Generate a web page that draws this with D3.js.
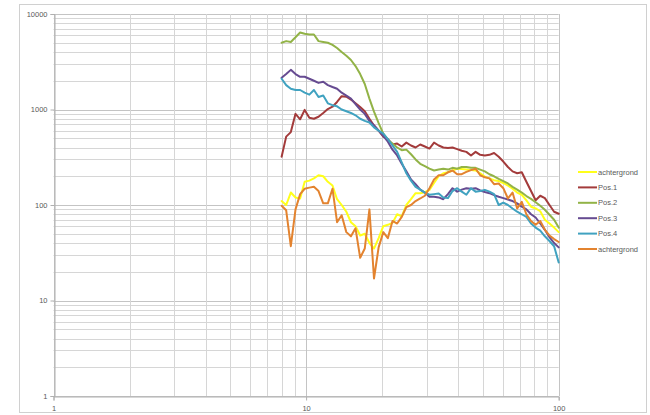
<!DOCTYPE html>
<html>
<head>
<meta charset="utf-8">
<script src="https://cdn.jsdelivr.net/npm/d3@7/dist/d3.min.js"></script>
<style>
  html, body { margin: 0; padding: 0; background: #fff; }
  svg { display: block; }
  text { font-family: "Liberation Sans", Arial, sans-serif; fill: #595959; }
</style>
</head>
<body>
<svg id="chart" width="650" height="415"></svg>
<script>
// Frequencies (Hz) of the measurement bands
const freqs = [8.00, 8.34, 8.70, 9.08, 9.47, 9.87, 10.30, 10.74, 11.20, 11.69,
  12.19, 12.72, 13.26, 13.83, 14.43, 15.05, 15.69, 16.37, 17.07, 17.81,
  18.57, 19.37, 20.21, 21.07, 21.98, 22.93, 23.91, 24.94, 26.02, 27.13,
  28.30, 29.52, 30.78, 32.10, 33.49, 34.93, 36.43, 37.99, 39.63, 41.32,
  43.10, 44.96, 46.88, 48.90, 51.00, 53.19, 55.48, 57.87, 60.36, 62.95,
  65.66, 68.48, 71.42, 74.49, 77.70, 81.04, 84.52, 88.15, 91.94, 95.90, 100.00];

const achtergrond1 = [110, 100, 135, 120, 117, 175, 180, 190, 205, 200,
  175, 160, 115, 100, 85, 66, 60, 48, 50, 40,
  35, 45, 60, 62, 65, 80, 76, 100, 115, 133,
  133, 136, 144, 170, 200, 215, 220, 230, 240, 238,
  235, 232, 230, 215, 198, 190, 182, 178, 170, 160,
  148, 135, 128, 112, 96, 92, 86, 70, 64, 58, 52];

const pos1 = [320, 520, 580, 900, 790, 990, 820, 800, 840, 920,
  1010, 1070, 1200, 1380, 1360, 1270, 1160, 1060, 960, 800,
  680, 600, 520, 490, 430, 440, 410, 450, 420, 400,
  430, 410, 390, 450, 420, 400, 395, 400, 385, 370,
  360, 330, 360, 335, 330, 335, 350, 320, 285, 250,
  225, 215, 220, 175, 140, 112, 125, 118, 100, 85, 81];

const pos2 = [5000, 5200, 5100, 5700, 6400, 6200, 6100, 6100, 5200, 5100,
  5000, 4750, 4400, 4000, 3650, 3300, 2850, 2350, 1850, 1300,
  950, 720, 560, 480, 440, 400, 375, 380, 340, 300,
  270, 255, 240, 230, 235, 240, 235, 245, 240, 250,
  250, 245, 245, 235, 225, 210, 200, 188, 178, 168,
  155, 145, 135, 124, 116, 107, 98, 89, 79, 70, 58];

const pos3 = [2150, 2350, 2600, 2350, 2200, 2200, 2100, 2000, 1900, 1950,
  1800, 1720, 1650, 1500, 1400, 1300, 1140, 1000, 900, 760,
  680, 600, 530, 460, 380, 330, 270, 225, 185, 165,
  145, 135, 122, 122, 120, 115, 130, 150, 138, 145,
  150, 148, 150, 142, 137, 133, 127, 122, 118, 114,
  110, 104, 96, 90, 80, 74, 64, 55, 46, 40, 36];

const pos4 = [2100, 1800, 1650, 1600, 1600, 1500, 1430, 1600, 1350, 1400,
  1160, 1110, 1080, 1000, 960, 920, 870, 800, 760, 730,
  650, 600, 560, 490, 420, 360, 280, 215, 180, 155,
  145, 135, 128, 130, 132, 120, 118, 140, 150, 138,
  128, 150, 138, 140, 144, 138, 130, 100, 106, 100,
  92, 85, 80, 75, 64, 58, 54, 47, 42, 37, 25];

const achtergrond2 = [98, 88, 37, 90, 130, 148, 152, 155, 140, 104,
  104, 148, 66, 78, 52, 47, 57, 28, 35, 90,
  17, 36, 52, 45, 68, 64, 75, 95, 100, 110,
  117, 125, 150, 185, 205, 205, 220, 230, 210, 210,
  222, 232, 240, 205, 195, 190, 165, 168, 150, 117,
  135, 92, 108, 80, 68, 62, 68, 55, 48, 44, 41];

const seriesNames = ["achtergrond", "Pos.1", "Pos.2", "Pos.3", "Pos.4", "achtergrond"];
const seriesValues = [achtergrond1, pos1, pos2, pos3, pos4, achtergrond2];
const seriesColors = ["#FFFF1A", "#A33B3B", "#92B347", "#664B91", "#40A2C0", "#E3832F"];

const xTickLabels = [1, 10, 100];
const yTickLabels = [1, 10, 100, 1000, 10000];

const svg = d3.select("#chart");

// Outer chart frame
svg.append("rect")
  .attr("x", 19.5).attr("y", 4.5)
  .attr("width", 627).attr("height", 408)
  .attr("fill", "#fff").attr("stroke", "#d0d0d0");

const x = d3.scaleLog().domain([1, 100]).range([53.5, 558.7]);
const y = d3.scaleLog().domain([1, 10000]).range([396, 14]);

const px = v => Math.round(x(v)) + 0.5;
const py = v => Math.round(y(v)) + 0.5;

// Grid: every 1..9 step of each decade
const grid = svg.append("g");
const isMajor = v => Math.abs(Math.log10(v) - Math.round(Math.log10(v))) < 1e-9;

grid.selectAll("line.h").data(y.ticks()).join("line")
  .attr("x1", x(1)).attr("x2", x(100))
  .attr("y1", d => py(d)).attr("y2", d => py(d))
  .attr("stroke", d => isMajor(d) ? "#c4c4c4" : "#d6d6d6")
  .attr("stroke-width", 1);

grid.selectAll("line.v").data(x.ticks()).join("line")
  .attr("y1", y(1)).attr("y2", y(10000))
  .attr("x1", d => px(d)).attr("x2", d => px(d))
  .attr("stroke", d => isMajor(d) ? "#c4c4c4" : "#d6d6d6")
  .attr("stroke-width", 1);

// Axes
const xAxis = d3.axisBottom(x).tickValues(xTickLabels).tickSize(4).tickPadding(5)
  .tickFormat(d3.format("d"));
const yAxis = d3.axisLeft(y).tickValues(yTickLabels).tickSize(4).tickPadding(3)
  .tickFormat(d3.format("d"));

const gx = svg.append("g").attr("transform", `translate(0,${Math.round(y(1)) + 0.5})`).call(xAxis);
const gy = svg.append("g").attr("transform", `translate(${Math.round(x(1)) + 0.5},0)`).call(yAxis);

[gx, gy].forEach(g => {
  g.select(".domain").attr("stroke", "#b0b0b0");
  g.selectAll(".tick line").attr("stroke", "#b0b0b0");
  g.selectAll(".tick text")
    .attr("fill", "#595959")
    .style("font-size", "7.5px")
    .style("font-family", "'Liberation Sans', Arial, sans-serif");
});

// Series lines
const line = d3.line()
  .x((d, i) => x(freqs[i]))
  .y(d => y(d));

svg.append("g").selectAll("path").data(seriesValues).join("path")
  .attr("d", d => line(d))
  .attr("fill", "none")
  .attr("stroke", (d, i) => seriesColors[i])
  .attr("stroke-width", 2)
  .attr("stroke-linejoin", "round")
  .attr("stroke-linecap", "round");

// Legend
const legend = svg.append("g").attr("transform", "translate(578,172)");
const item = legend.selectAll("g").data(seriesNames).join("g")
  .attr("transform", (d, i) => `translate(0,${i * 15.4})`);
item.append("line")
  .attr("x1", 0).attr("x2", 19).attr("y1", 0).attr("y2", 0)
  .attr("stroke", (d, i) => seriesColors[i]).attr("stroke-width", 2);
item.append("text")
  .attr("x", 20).attr("y", 0).attr("dy", "0.35em")
  .style("font-size", "7.5px")
  .text(d => d);
</script>
</body>
</html>
